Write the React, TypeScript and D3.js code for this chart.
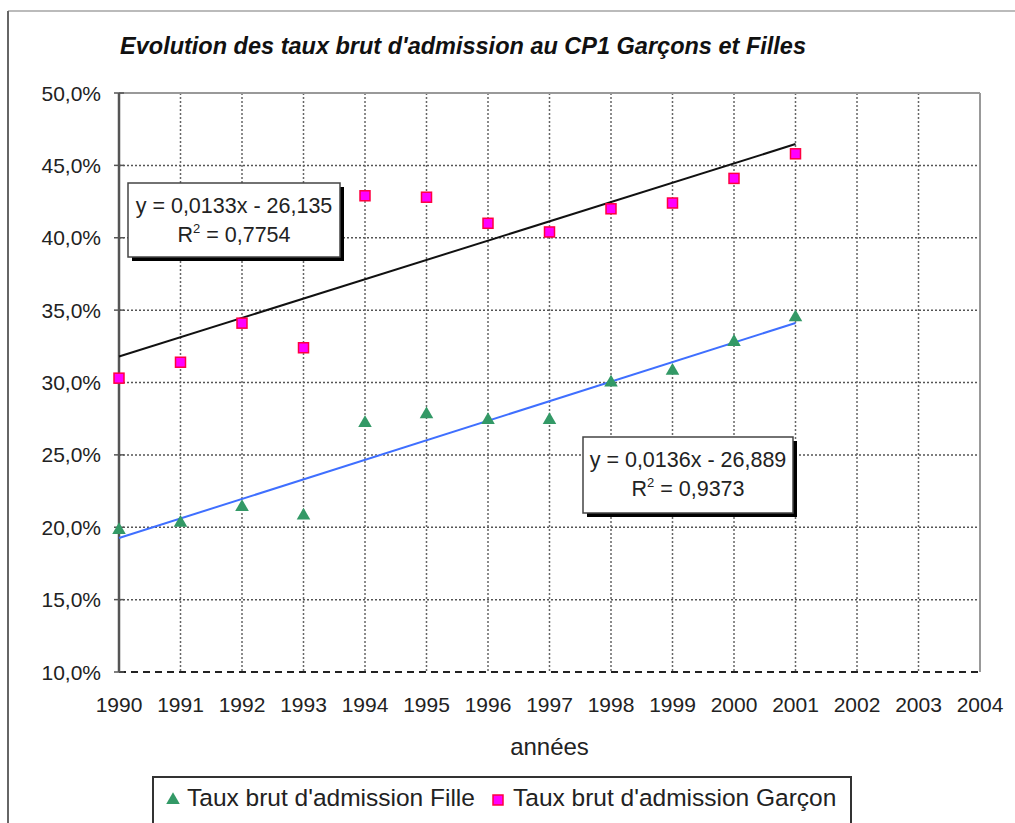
import React from "react";
import * as d3 from "d3";

const years = [1990, 1991, 1992, 1993, 1994, 1995, 1996, 1997, 1998, 1999, 2000, 2001];
const filleValues = [19.8, 20.3, 21.4, 20.8, 27.2, 27.8, 27.4, 27.4, 30.0, 30.8, 32.8, 34.5];
const garconValues = [30.3, 31.4, 34.1, 32.4, 42.9, 42.8, 41.0, 40.4, 42.0, 42.4, 44.1, 45.8];
const xTicks = [1990, 1991, 1992, 1993, 1994, 1995, 1996, 1997, 1998, 1999, 2000, 2001, 2002, 2003, 2004];
const yTicks = [10, 15, 20, 25, 30, 35, 40, 45, 50];
const titleText = "Evolution des taux brut d'admission au CP1 Garçons et Filles";
const xAxisTitle = "années";
const legendFille = "Taux brut d'admission Fille";
const legendGarcon = "Taux brut d'admission Garçon";
const eqGarcon = ["y = 0,0133x - 26,135", "0,7754"];
const eqFille = ["y = 0,0136x - 26,889", "0,9373"];

const FONT = "'Liberation Sans', Arial, sans-serif";
const W = 1015, H = 823;
const M = { left: 119, right: 980, top: 93, bottom: 672 };

function regression(xs: number[], ys: number[]) {
  const mx = d3.mean(xs)!, my = d3.mean(ys)!;
  let sxy = 0, sxx = 0;
  xs.forEach((x, i) => { sxy += (x - mx) * (ys[i] - my); sxx += (x - mx) * (x - mx); });
  const b = sxy / sxx;
  return (x: number) => my + b * (x - mx);
}

function EqBox({ x0, y0, w, h, lines }: { x0: number; y0: number; w: number; h: number; lines: string[] }) {
  const cx = x0 + w / 2;
  return (
    <g>
      <rect x={x0 + 4} y={y0 + 4} width={w} height={h} fill="#000" />
      <rect x={x0} y={y0} width={w} height={h} fill="#fff" stroke="#444" strokeWidth={1.5} />
      <text x={cx} y={y0 + 30} textAnchor="middle" fontSize={21.5} fontFamily={FONT} fill="#222">{lines[0]}</text>
      <text x={cx} y={y0 + 59} textAnchor="middle" fontSize={21.5} fontFamily={FONT} fill="#222">
        R<tspan fontSize={13} dy={-9}>2</tspan><tspan dy={9}>{" = " + lines[1]}</tspan>
      </text>
    </g>
  );
}

export default function App() {
  const x = d3.scaleLinear().domain([1990, 2004]).range([M.left, M.right]);
  const y = d3.scaleLinear().domain([10, 50]).range([M.bottom, M.top]);
  const fG = regression(years, garconValues);
  const fF = regression(years, filleValues);
  const line = d3.line<number[]>().x(d => x(d[0])).y(d => y(d[1]));
  const x0 = years[0], x1 = years[years.length - 1];
  const tri = d3.symbol().type(d3.symbolTriangle).size(80)()!;

  return (
    <svg width={W} height={H} style={{ position: "absolute", left: 0, top: 0, background: "#fff" }}>
      {/* outer frame */}
      <line x1={8} y1={11} x2={W} y2={11} stroke="#bbb" strokeWidth={2} />
      <line x1={8} y1={11} x2={8} y2={H} stroke="#666" strokeWidth={2} />

      <text x={463} y={54} textAnchor="middle" fontSize={23.5} fontWeight="bold" fontStyle="italic" fontFamily={FONT} fill="#111">{titleText}</text>

      {/* grid */}
      {yTicks.filter(t => t > 10 && t < 50).map(t => (
        <line key={"gy" + t} x1={M.left} x2={M.right} y1={y(t)} y2={y(t)} stroke="#555" strokeWidth={1.5} strokeDasharray="2,2" />
      ))}
      {xTicks.filter(t => t > 1990 && t < 2004).map(t => (
        <line key={"gx" + t} x1={x(t)} x2={x(t)} y1={M.top} y2={M.bottom} stroke="#666" strokeWidth={1.5} strokeDasharray="2,2" />
      ))}
      {/* borders */}
      <line x1={M.left} x2={M.right} y1={M.top} y2={M.top} stroke="#999" strokeWidth={2} />
      <line x1={M.right} x2={M.right} y1={M.top} y2={M.bottom} stroke="#999" strokeWidth={2} />
      <line x1={M.left} x2={M.right} y1={M.bottom} y2={M.bottom} stroke="#222" strokeWidth={2} strokeDasharray="7,5" />
      <line x1={M.left} x2={M.left} y1={M.top} y2={M.bottom} stroke="#555" strokeWidth={2.5} />
      {yTicks.map(t => (
        <line key={"ty" + t} x1={M.left - 5} x2={M.left + 5} y1={y(t)} y2={y(t)} stroke="#555" strokeWidth={1.5} />
      ))}

      {/* tick labels */}
      {yTicks.map(t => (
        <text key={"ly" + t} x={101} y={y(t) + 7.5} textAnchor="end" fontSize={21} fontFamily={FONT} fill="#222">
          {t.toFixed(1).replace(".", ",") + "%"}
        </text>
      ))}
      {xTicks.map(t => (
        <text key={"lx" + t} x={x(t)} y={712} textAnchor="middle" fontSize={21} fontFamily={FONT} fill="#222">{t}</text>
      ))}
      <text x={(M.left + M.right) / 2} y={755} textAnchor="middle" fontSize={24} fontFamily={FONT} fill="#222">{xAxisTitle}</text>

      {/* trendlines */}
      <path d={line([[x0, fG(x0)], [x1, fG(x1)]])!} stroke="#111" strokeWidth={2} fill="none" />
      <path d={line([[x0, fF(x0)], [x1, fF(x1)]])!} stroke="#3f6fff" strokeWidth={2} fill="none" />

      {/* markers */}
      {years.map((yr, i) => (
        <path key={"f" + yr} d={tri} transform={`translate(${x(yr)},${y(filleValues[i])})`} fill="#339966" />
      ))}
      {years.map((yr, i) => (
        <rect key={"g" + yr} x={x(yr) - 5} y={y(garconValues[i]) - 5} width={10} height={10} fill="#ff00ff" stroke="#ff0040" strokeWidth={1.5} />
      ))}

      {/* equation boxes */}
      <EqBox x0={128} y0={183} w={212} h={74} lines={eqGarcon} />
      <EqBox x0={583} y0={437} w={210} h={76} lines={eqFille} />

      {/* legend */}
      <rect x={153} y={777} width={698} height={60} fill="#fff" stroke="#333" strokeWidth={2} />
      <path d={tri} transform="translate(173,800)" fill="#339966" />
      <text x={187} y={806} fontSize={24.5} fontFamily={FONT} fill="#222">{legendFille}</text>
      <rect x={493} y={795} width={10} height={10} fill="#ff00ff" stroke="#ff0040" strokeWidth={1.5} />
      <text x={513} y={806} fontSize={24.5} fontFamily={FONT} fill="#222">{legendGarcon}</text>
    </svg>
  );
}
